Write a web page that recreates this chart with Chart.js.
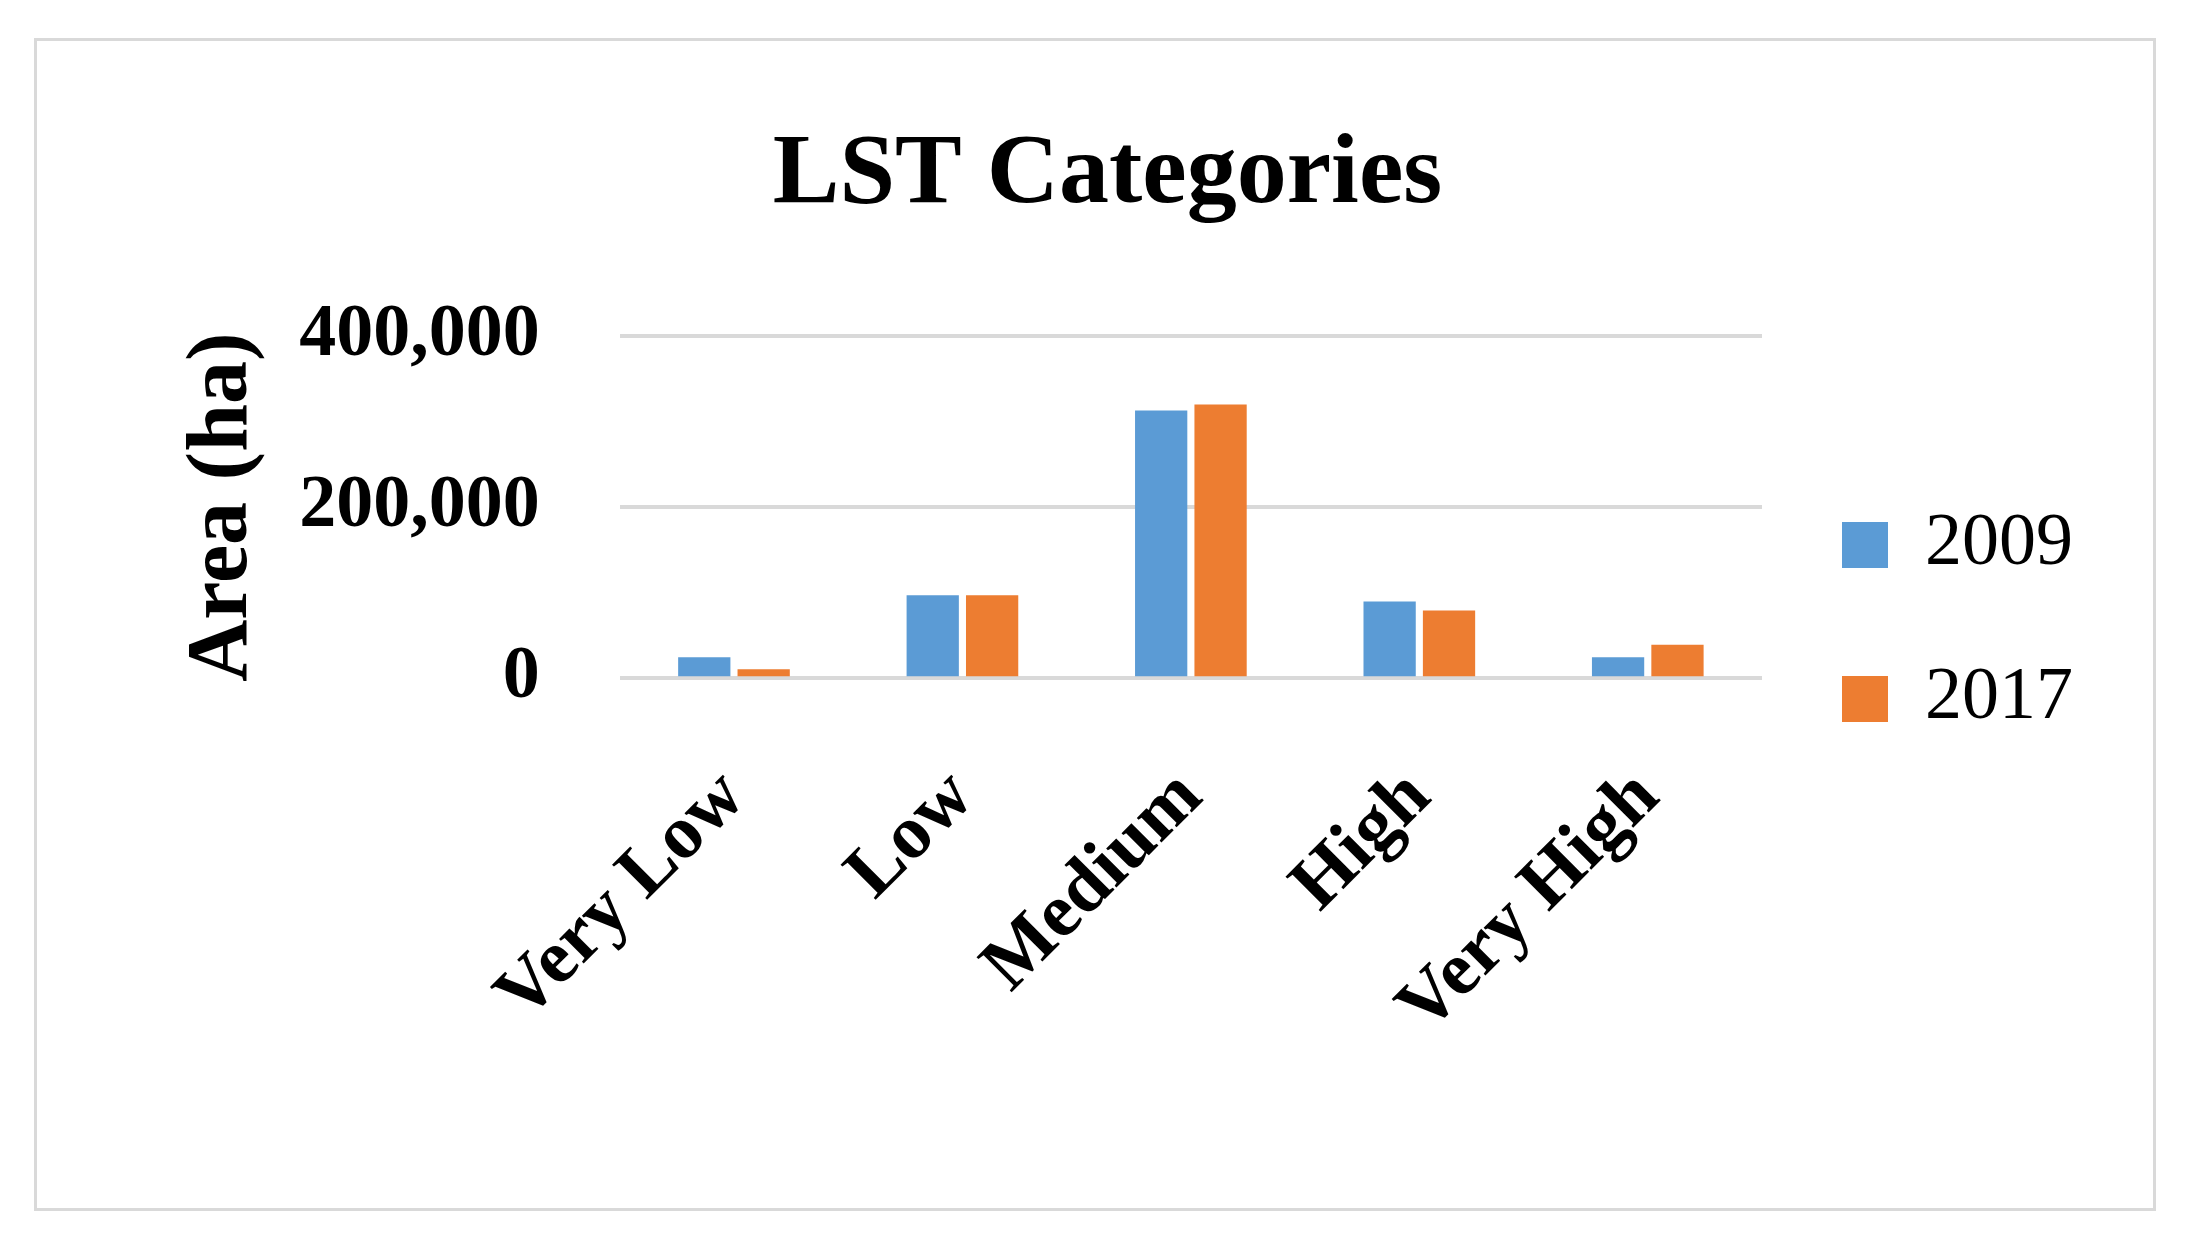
<!DOCTYPE html>
<html><head><meta charset="utf-8">
<script src="https://cdn.jsdelivr.net/npm/chart.js@4/dist/chart.umd.min.js"></script>
<style>
html,body{margin:0;padding:0;background:#fff;width:2190px;height:1255px;overflow:hidden}
#box{position:absolute;left:34px;top:38px;width:2122px;height:1173px;border:3px solid #d9d9d9;box-sizing:border-box}
#wrap{position:absolute;left:37px;top:41px;width:2116px;height:1167px}
</style></head><body>
<div id="box"></div>
<div id="wrap"><canvas id="c"></canvas></div>
<script>
const categories = ["Very Low","Low","Medium","High","Very High"];
const series2009 = [24500, 97000, 313000, 89500, 24500];
const series2017 = [10500, 97000, 320000, 79000, 39000];
const yTicks = [0, 100000, 200000, 300000, 400000];
const F = "'Liberation Serif', 'DejaVu Serif', serif";
new Chart(document.getElementById('c'), {
  type: 'bar',
  data: { labels: categories, datasets: [
    { label: '2009', data: series2009, backgroundColor: '#5b9bd5', categoryPercentage: 0.52, barPercentage: 0.88 },
    { label: '2017', data: series2017, backgroundColor: '#ed7d31', categoryPercentage: 0.52, barPercentage: 0.88 }
  ]},
  options: {
    responsive: true, maintainAspectRatio: false, animation: false,
    layout: { padding: { left: 95, right: 70, top: 75, bottom: 80 } },
    plugins: {
      title: { display: true, text: 'LST Categories', color: '#000', font: { family: F, size: 100, weight: 'bold' }, padding: { top: 0, bottom: 100 } },
      legend: { position: 'right', labels: { color: '#000', font: { family: F, size: 74 }, boxWidth: 46, boxHeight: 46, padding: 80 } },
      tooltip: { enabled: false }
    },
    scales: {
      x: { grid: { display: false, drawTicks: false }, border: { display: false },
           ticks: { color: '#000', font: { family: F, size: 76, weight: 'bold' }, maxRotation: 45, minRotation: 45, padding: 75 } },
      y: { min: 0, max: 400000, afterBuildTicks: a => { a.ticks = yTicks.map(v => ({ value: v })); },
           grid: { color: '#d9d9d9', lineWidth: 4, drawTicks: false }, border: { display: false },
           ticks: { color: '#000', font: { family: F, size: 74, weight: 'bold' }, padding: 80, callback: v => v.toLocaleString('en-US') },
           title: { display: true, text: 'Area (ha)', color: '#000', font: { family: F, size: 86, weight: 'bold' }, padding: 40 } }
    }
  }
});
</script></body></html>
